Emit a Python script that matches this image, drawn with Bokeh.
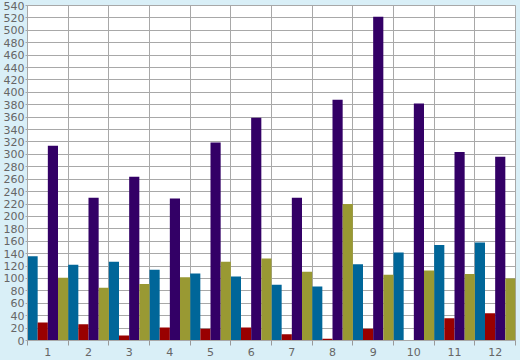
from bokeh.plotting import figure
from bokeh.models import ColumnDataSource, FixedTicker, GlobalInlineStyleSheet
from bokeh.transform import dodge
from bokeh.embed import file_html
from bokeh.resources import INLINE

categories = [1, 2, 3, 4, 5, 6, 7, 8, 9, 10, 11, 12]
blue_vals = [136, 122, 127, 114, 108, 103, 90, 87, 123, 142, 154, 158]
red_vals = [29, 26, 8, 21, 19, 21, 10, 3, 19, 1, 36, 44]
purple_vals = [314, 230, 264, 229, 319, 359, 230, 388, 522, 382, 304, 296]
olive_vals = [101, 85, 91, 102, 127, 132, 111, 220, 106, 113, 107, 100]
y_ticks = list(range(0, 541, 20))

BG = "#d9eff7"
src = ColumnDataSource(dict(x=categories, blue=blue_vals, red=red_vals,
                            purple=purple_vals, olive=olive_vals))

p = figure(width=520, height=360, output_backend="svg", toolbar_location=None,
           x_range=(0.5, 12.5), y_range=(0, 540),
           min_border_left=26, min_border_right=5, min_border_top=5, min_border_bottom=20)
p.stylesheets = [GlobalInlineStyleSheet(css="html,body{margin:0;padding:0;background:%s;}" % BG)]
p.border_fill_color = BG
p.background_fill_color = "white"
p.outline_line_color = "#a8a8a8"

series = [("blue", "#006699", -0.375), ("red", "#990000", -0.125),
          ("purple", "#330066", 0.125), ("olive", "#999933", 0.375)]
for col, color, off in series:
    p.vbar(x=dodge("x", off, range=p.x_range), top=col, width=0.25, bottom=0,
           source=src, fill_color=color, line_color=None)

boundaries = [c + 0.5 for c in [0] + categories]
p.xaxis.ticker = FixedTicker(ticks=categories, minor_ticks=boundaries)
p.xaxis.major_tick_out = 0
p.xaxis.major_tick_in = 0
p.xaxis.minor_tick_out = 5
p.xaxis.minor_tick_in = 0
p.xaxis.minor_tick_line_color = "#999999"
p.xaxis.axis_line_color = "#a8a8a8"
p.xaxis.major_label_standoff = 2
p.xgrid.ticker = FixedTicker(ticks=boundaries)

p.yaxis.ticker = FixedTicker(ticks=y_ticks)
p.yaxis.major_tick_out = 2
p.yaxis.major_tick_in = 0
p.yaxis.minor_tick_out = 0
p.yaxis.minor_tick_in = 0
p.yaxis.major_tick_line_color = "#a8a8a8"
p.yaxis.axis_line_color = "#a8a8a8"
p.yaxis.major_label_standoff = 1

for ax in (p.xaxis, p.yaxis):
    ax.major_label_text_font = "DejaVu Sans"
    ax.major_label_text_font_size = "11px"
    ax.major_label_text_color = "#666666"

for g in (p.xgrid, p.ygrid):
    g.grid_line_color = "#a8a8a8"
    g.grid_line_width = 1
    g.grid_line_alpha = 1

open("out.html", "w").write(file_html(p, INLINE))
